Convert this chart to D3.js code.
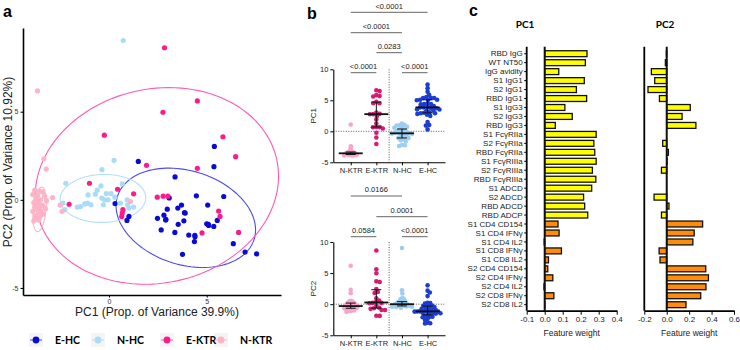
<!DOCTYPE html>
<html>
<head>
<meta charset="utf-8">
<script src="https://cdn.jsdelivr.net/npm/d3@7"></script>
<style>
  body { margin: 0; background: #fff; }
  svg { font-family: "Liberation Sans", Arial, sans-serif; }
</style>
</head>
<body>
<svg id="chart" width="740" height="350"></svg>
<script>
// ---- data: PCA scores [PC1, PC2] per group ----
var groups = ["E-HC", "N-HC", "E-KTR", "N-KTR"];

var eHC = [[5.39,3.03],[5.37,1.88],[1.50,2.18],[3.38,1.30],[0.31,-0.21],[1.02,-0.94],[0.92,-1.17],[3.08,0.11],
  [4.47,0.23],[5.87,0.19],[3.71,-0.30],[3.52,-0.47],[5.05,-0.30],[2.98,-0.53],[3.86,-0.73],[2.81,-0.87],
  [2.48,-1.05],[2.91,-1.11],[3.83,-1.19],[5.54,-1.17],[5.00,-1.36],[5.08,-1.39],[5.36,-1.51],[3.54,-1.39],
  [2.67,-1.71],[3.37,-1.85],[4.08,-2.00],[4.39,-2.01],[4.37,-2.37],[6.36,-2.49],[6.96,-2.96],[7.55,-3.07],
  [3.76,-3.09],[3.90,-0.75],[5.10,-1.45],[4.40,-2.10],[2.90,-1.15]];

var nHC = [[0.73,9.04],[0.26,2.24],[-0.36,1.71],[-2.21,0.94],[-0.41,0.79],[0.68,0.90],[-1.07,0.28],[-0.70,0.32],
  [-0.14,0.36],[0.10,0.36],[-0.37,0.10],[-0.22,0.00],[-0.05,0.00],[0.93,0.00],[-2.36,-0.19],[-1.62,-0.41],
  [-1.46,-0.38],[-1.24,-0.23],[-1.10,-0.19],[-0.92,-0.28],[-0.29,-0.28],[-2.26,-0.56],[0.58,-0.19],[0.95,-0.28],
  [1.26,-0.41],[1.02,-0.47],[-0.60,0.55],[0.30,0.15]];

var eKTR = [[2.84,8.63],[4.52,5.61],[2.76,4.97],[-0.24,3.67],[5.83,3.58],[6.48,2.45],[4.52,1.79],[1.92,1.96],
  [-1.00,0.94],[0.44,0.60],[1.26,0.34],[-2.04,-0.25],[0.71,-0.56],[0.68,-0.75],[0.65,-0.94],[2.47,0.15],
  [2.77,0.21],[3.01,0.21],[5.61,-0.64],[5.68,-0.94],[4.76,-1.88],[6.63,-1.85]];

var nKTR = [[-3.66,6.18],[-3.33,2.33],[-3.21,1.75],[-2.89,0.13],[1.10,-0.10],[-2.50,-0.30],[-2.40,-0.65],
  [-3.80,0.55],[-3.55,0.50],[-3.40,0.45],[-3.90,0.30],[-3.65,0.25],[-3.30,0.20],[-3.75,0.05],[-3.50,0.00],
  [-3.20,-0.05],[-3.85,-0.15],[-3.60,-0.20],[-3.40,-0.30],[-3.80,-0.40],[-3.55,-0.45],[-3.25,-0.50],
  [-3.70,-0.55],[-3.50,-0.60],[-3.90,-0.65],[-3.60,-0.75],[-3.35,-0.80],[-3.75,-0.90],[-3.55,-1.00],
  [-3.80,-1.10],[-3.60,-1.15],[-3.85,-1.20],[-3.65,-0.35],[-3.45,-0.85]];

var scores = { "E-HC": eHC, "N-HC": nHC, "E-KTR": eKTR, "N-KTR": nKTR };

// 95% ellipses (centre, semi axes, angle in degrees)
var ellCx    = [3.93, -0.31, 2.45, -3.55];
var ellCy    = [-1.02, 0.08, 0.79, -0.54];
var ellA     = [3.71, 2.19, 6.33, 1.27];
var ellB     = [2.63, 1.36, 5.46, 0.33];
var ellAngle = [-22.8, 2, 21.1, 85];

// panel b
var stripOrder = ["N-KTR", "E-KTR", "N-HC", "E-HC"];
var pc1Brackets = [["N-KTR","E-HC","<0.0001",-57],["N-KTR","N-HC","<0.0001",-36.6],["E-KTR","N-HC","0.0283",-16.6],
  ["N-KTR","E-KTR","<0.0001",3.4],["N-HC","E-HC","<0.0001",3.4]];
var pc2Brackets = [["N-KTR","N-HC","0.0166",-46],["E-KTR","E-HC","0.0001",-25.3],
  ["N-KTR","E-KTR","0.0584",-5.3],["N-HC","E-HC","<0.0001",-5.3]];

// panel c
var features = ["RBD IgG","WT NT50","IgG avidity","S1 IgG1","S2 IgG1","RBD IgG1","S1 IgG3","S2 IgG3","RBD IgG3",
  "S1 FcγRIIa","S2 FcγRIIa","RBD FcγRIIa","S1 FcγRIIIa","S2 FcγRIIIa","RBD FcγRIIIa","S1 ADCD","S2 ADCD",
  "RBD ADCD","RBD ADCP","S1 CD4 CD154","S1 CD4 IFNγ","S1 CD4 IL2","S1 CD8 IFNγ","S1 CD8 IL2","S2 CD4 CD154",
  "S2 CD4 IFNγ","S2 CD4 IL2","S2 CD8 IFNγ","S2 CD8 IL2"];
var humoralCount = 19;  // first 19 features are humoral (yellow), rest cellular (orange)
var pc1Weights = [0.235,0.226,0.078,0.220,0.176,0.233,0.112,0.153,0.059,0.286,0.273,0.278,0.286,0.265,0.284,
  0.261,0.216,0.222,0.239,0.074,0.080,-0.003,0.093,0.021,0.017,0.045,-0.004,0.051,0.001];
var pc2Weights = [-0.003,-0.012,-0.137,-0.107,-0.167,-0.065,0.210,0.137,0.260,0.000,-0.036,0.015,0.003,-0.047,
  0.000,0.000,-0.113,0.020,-0.047,0.320,0.245,0.233,-0.068,-0.060,0.348,0.372,0.350,0.303,0.172];

// colours
var colA = { "E-HC": "#0a0ad6", "N-HC": "#a9dcf7", "E-KTR": "#ff1a8c", "N-KTR": "#ffb3c6" };
var colEll = { "E-HC": "#4b4bee", "N-HC": "#b3e0f7", "E-KTR": "#ff5ab4", "N-KTR": "#f7b8c8" };
var colB = { "N-KTR": "#f7a5cb", "E-KTR": "#d81b72", "N-HC": "#9ccdf3", "E-HC": "#1c3dd0" };
// max half width of each swarm (px), GraphPad lets dense dots overlap
var swarmHalf = { "N-KTR": 6.5, "E-KTR": 10, "N-HC": 10, "E-HC": 13 };

var svg = d3.select("#chart");

function panelLabel(t, x, y) {
  svg.append("text").attr("x", x).attr("y", y).text(t)
    .style("font-size", "16px").style("font-weight", "bold");
}

// ================= panel a =================
var xA = d3.scaleLinear().domain([-4.4, 8.8]).range([23, 281]);
var yA = d3.scaleLinear().domain([-5.4, 9.75]).range([295, 28]);
var gA = svg.append("g");

groups.forEach(function (g, i) {
  var pts = d3.range(0, 121).map(function (k) {
    var t = k / 120 * 2 * Math.PI, th = ellAngle[i] * Math.PI / 180;
    var dx = ellA[i] * Math.cos(t), dy = ellB[i] * Math.sin(t);
    return [ellCx[i] + dx * Math.cos(th) - dy * Math.sin(th), ellCy[i] + dx * Math.sin(th) + dy * Math.cos(th)];
  });
  gA.append("path")
    .attr("d", d3.line().x(function (d) { return xA(d[0]); }).y(function (d) { return yA(d[1]); })(pts))
    .attr("fill", "none").attr("stroke", colEll[g]).attr("stroke-width", 1.1);
});

groups.forEach(function (g) {
  gA.append("g").selectAll("circle").data(scores[g]).enter().append("circle")
    .attr("cx", function (d) { return xA(d[0]); })
    .attr("cy", function (d) { return yA(d[1]); })
    .attr("r", 2.6).attr("fill", colA[g]);
});

var axA1 = gA.append("g").attr("transform", "translate(0,295)")
  .call(d3.axisBottom(xA).tickValues([0, 5]).tickSize(2.5).tickSizeOuter(0).tickPadding(2));
var axA2 = gA.append("g").attr("transform", "translate(23,0)")
  .call(d3.axisLeft(yA).tickValues([-5, 0, 5]).tickSize(2.5).tickSizeOuter(0).tickPadding(2).tickFormat(function (d) { return d; }));
[axA1, axA2].forEach(function (a) {
  a.select(".domain").attr("stroke-width", 1.6);
  a.selectAll("text").style("font-size", "7px").style("font-family", "Liberation Sans, Arial").attr("fill", "#333");
});

gA.append("text").attr("x", 157).attr("y", 316).attr("text-anchor", "middle")
  .style("font-size", "12px").attr("fill", "#222").text("PC1 (Prop. of Variance 39.9%)");
gA.append("text").attr("transform", "translate(12,162) rotate(-90)").attr("text-anchor", "middle")
  .style("font-size", "12px").attr("fill", "#222").text("PC2 (Prop. of Variance 10.92%)");

// legend
var legendX = [36, 98, 167, 221];
var legend = gA.append("g");
groups.forEach(function (g, i) {
  legend.append("rect").attr("x", legendX[i] - 7).attr("y", 333).attr("width", 14).attr("height", 14).attr("fill", "#f4f4f4");
});
groups.forEach(function (g, i) {
  var lg = legend.append("g").attr("transform", "translate(" + legendX[i] + ",340)");
  lg.append("line").attr("x1", -6).attr("x2", 6).attr("stroke", colEll[g]).attr("stroke-width", 1);
  lg.append("circle").attr("r", 3.4).attr("fill", colA[g]);
  lg.append("text").attr("x", 19).attr("y", 4).text(g)
    .style("font-size", "10.5px").style("font-weight", "bold").style("font-family", "Lato, 'Liberation Sans', Arial");
});

panelLabel("a", 3, 17);

// ================= panel b =================
var xB = d3.scalePoint().domain(stripOrder).range([333.3, 445]).padding(0.68);

function swarm(vals, y, r, half) {
  var pts = vals.map(function (v) { return { v: v, y: y(v) }; }).sort(function (a, b) { return a.y - b.y; });
  var placed = [];
  pts.forEach(function (p) {
    var cands = [0];
    placed.forEach(function (q) {
      var dy = Math.abs(q.y - p.y);
      if (dy < 2 * r) { var dx = Math.sqrt(4 * r * r - dy * dy) + 0.01; cands.push(q.dx + dx, q.dx - dx); }
    });
    cands.sort(function (a, b) { return Math.abs(a) - Math.abs(b); });
    for (var k = 0; k < cands.length; k++) {
      var c = cands[k];
      if (placed.every(function (q) { return Math.hypot(q.dx - c, q.y - p.y) >= 2 * r - 0.02; })) { p.dx = c; break; }
    }
    placed.push(p);
  });
  var m = d3.max(placed, function (p) { return Math.abs(p.dx); });
  if (m > half) placed.forEach(function (p) { p.dx = p.dx * half / m; });
  return placed;
}

function stripPanel(yTop, yBot, pcIdx, title, brackets) {
  var y = d3.scaleLinear().domain([-5, 10]).range([yBot, yTop]);
  var g = svg.append("g");

  // dotted reference lines
  var xs = xB.range();
  g.append("line").attr("x1", xs[0]).attr("x2", xs[1]).attr("y1", y(0)).attr("y2", y(0))
    .attr("stroke", "#333").attr("stroke-width", 0.8).attr("stroke-dasharray", "1,1.5");
  var xm = (xB("E-KTR") + xB("N-HC")) / 2;
  g.append("line").attr("x1", xm).attr("x2", xm).attr("y1", y(10)).attr("y2", y(-5))
    .attr("stroke", "#333").attr("stroke-width", 0.8).attr("stroke-dasharray", "1,1.5");

  stripOrder.forEach(function (grp) {
    var vals = scores[grp].map(function (d) { return d[pcIdx]; });
    var sw = swarm(vals, y, 1.7, swarmHalf[grp]);
    var cx = xB(grp);
    g.append("g").selectAll("circle").data(sw).enter().append("circle")
      .attr("cx", function (d) { return cx + d.dx; }).attr("cy", function (d) { return d.y; })
      .attr("r", 2.3).attr("fill", colB[grp]);
    var sorted = vals.slice().sort(d3.ascending);
    var med = d3.quantile(sorted, 0.5), q1 = d3.quantile(sorted, 0.25), q3 = d3.quantile(sorted, 0.75);
    g.append("line").attr("x1", cx).attr("x2", cx).attr("y1", y(q1)).attr("y2", y(q3)).attr("stroke", "#111").attr("stroke-width", 1);
    [q1, q3].forEach(function (q) {
      g.append("line").attr("x1", cx - 5).attr("x2", cx + 5).attr("y1", y(q)).attr("y2", y(q)).attr("stroke", "#111").attr("stroke-width", 1);
    });
    g.append("line").attr("x1", cx - 12).attr("x2", cx + 12).attr("y1", y(med)).attr("y2", y(med)).attr("stroke", "#111").attr("stroke-width", 1.8);
  });

  var ax = g.append("g").attr("transform", "translate(333.3,0)")
    .call(d3.axisLeft(y).tickValues([-5, 0, 5, 10]).tickSize(3).tickSizeOuter(0).tickPadding(2).tickFormat(function (d) { return d; }));
  var bx = g.append("g").attr("transform", "translate(0," + yBot + ")")
    .call(d3.axisBottom(xB).tickSize(3).tickSizeOuter(0).tickPadding(2));
  [ax, bx].forEach(function (a) {
    a.select(".domain").attr("stroke-width", 1.1);
    a.selectAll("text").style("font-size", "7.5px").style("font-family", "Liberation Sans, Arial").attr("fill", "#222");
  });
  g.append("text").attr("transform", "translate(316," + y(2.5) + ") rotate(-90)").attr("text-anchor", "middle")
    .style("font-size", "8px").attr("fill", "#222").text(title);

  brackets.forEach(function (b) {
    var ly = yTop + b[3];
    g.append("line").attr("x1", xB(b[0])).attr("x2", xB(b[1])).attr("y1", ly).attr("y2", ly)
      .attr("stroke", "#555").attr("stroke-width", 0.9);
    g.append("text").attr("x", (xB(b[0]) + xB(b[1])) / 2).attr("y", ly - 3.6).attr("text-anchor", "middle")
      .style("font-size", "7.5px").attr("fill", "#222").text(b[2]);
  });
}

stripPanel(69.3, 162.3, 0, "PC1", pc1Brackets);
stripPanel(242, 335.3, 1, "PC2", pc2Brackets);
panelLabel("b", 307, 19);

// ================= panel c =================
var yC = d3.scaleBand().domain(features).range([47.7, 310.7]).padding(0.34);

function loadingPanel(x0, x1, dom, ticks, weights, title, showLabels) {
  var x = d3.scaleLinear().domain(dom).range([x0, x1]);
  var g = svg.append("g");
  g.selectAll("rect").data(features).enter().append("rect")
    .attr("x", function (d, i) { return Math.min(x(0), x(weights[i])); })
    .attr("width", function (d, i) { return Math.abs(x(weights[i]) - x(0)); })
    .attr("y", function (d) { return yC(d); })
    .attr("height", yC.bandwidth())
    .attr("fill", function (d, i) { return i < humoralCount ? "#ffff00" : "#ff8c0a"; })
    .attr("stroke", "#111").attr("stroke-width", 1.3);
  g.append("line").attr("x1", x(0)).attr("x2", x(0)).attr("y1", 46.7).attr("y2", 310.7)
    .attr("stroke", "#111").attr("stroke-width", 2);

  var bx = g.append("g").attr("transform", "translate(0,310.7)")
    .call(d3.axisBottom(x).tickValues(ticks).tickSize(4).tickSizeOuter(0).tickPadding(2)
      .tickFormat(function (d) { return d.toFixed(1); }));
  var ly = g.append("g").attr("transform", "translate(" + x0 + ",0)")
    .call(d3.axisLeft(yC).tickSize(showLabels ? 2.5 : 0).tickSizeOuter(0).tickPadding(1.5));
  ly.select(".domain").attr("stroke-width", 1.8).attr("d", "M0,46.7V310.7");
  if (!showLabels) ly.selectAll(".tick").remove();
  bx.select(".domain").attr("stroke-width", 1.8);
  [bx, ly].forEach(function (a) {
    a.selectAll("text").style("font-size", "8px").style("font-family", "Liberation Sans, Arial").attr("fill", "#222");
  });
  g.append("text").attr("x", (x0 + x1) / 2).attr("y", 336).attr("text-anchor", "middle")
    .style("font-size", "8.5px").attr("fill", "#222").text("Feature weight");
  g.append("text").attr("x", title[1]).attr("y", 28).attr("text-anchor", "middle")
    .style("font-size", "10px").style("font-weight", "bold").style("font-family", "Lato, 'Liberation Sans', Arial")
    .text(title[0]);
}

loadingPanel(526.7, 616.7, [-0.1, 0.4], [-0.1, 0, 0.1, 0.2, 0.3, 0.4], pc1Weights, ["PC1", 525], true);
loadingPanel(644.3, 734, [-0.2, 0.6], [-0.2, 0, 0.2, 0.4, 0.6], pc2Weights, ["PC2", 665], false);
panelLabel("c", 469, 16);
</script>
</body>
</html>
